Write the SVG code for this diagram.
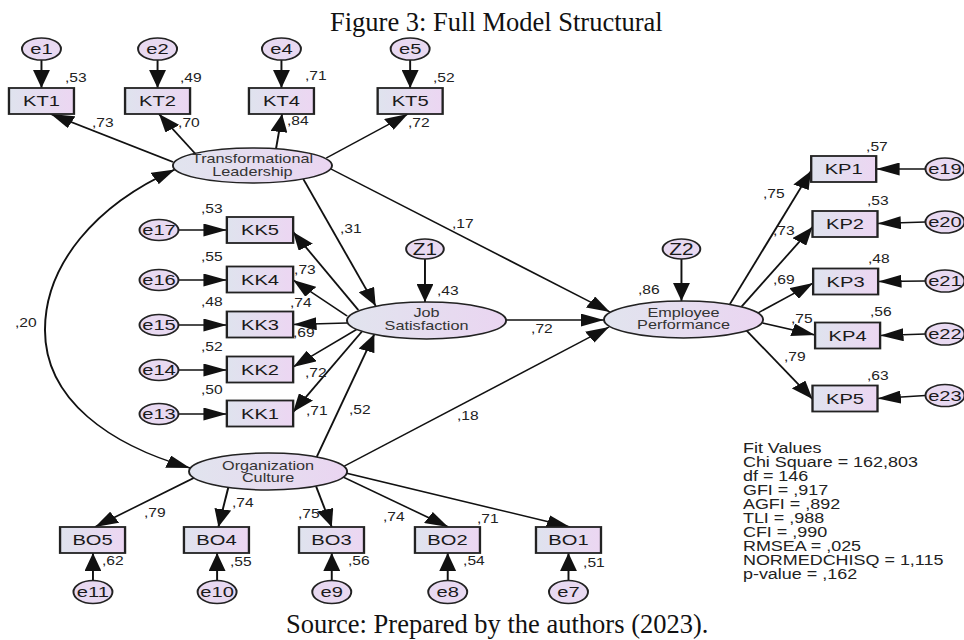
<svg xmlns="http://www.w3.org/2000/svg" width="964" height="640" viewBox="0 0 964 640">
<style>
.t{font-family:"Liberation Sans",Arial,sans-serif;fill:#1a1a1a}
.n{font-size:15.5px;text-anchor:middle}
.z{font-size:16px;text-anchor:middle}
.lt{font-size:12.5px;text-anchor:middle;fill:#333}
.v{font-size:12px;fill:#222}
.fit{font-size:13.8px;fill:#222}
.box{fill:url(#gb);stroke:#222;stroke-width:1.8}
.lat{fill:url(#gl);stroke:#222;stroke-width:1.5}
.err{fill:#e8d9f1;stroke:#222;stroke-width:1.5}
.c{fill:none;stroke:#111;stroke-width:1.5;marker-end:url(#ah)}
.cap{font-family:"Liberation Serif","Times New Roman",serif;font-size:26.5px;fill:#111}
</style>
<defs>
<linearGradient id="gb" x1="0" y1="0" x2="1" y2="0"><stop offset="0" stop-color="#dfe3ee"/><stop offset="1" stop-color="#ecd6f2"/></linearGradient>
<linearGradient id="gl" x1="0" y1="0" x2="1" y2="0"><stop offset="0" stop-color="#e1e4ee"/><stop offset="1" stop-color="#ead5f1"/></linearGradient>
<marker id="ah" viewBox="0 0 18 13" refX="18" refY="6.5" markerWidth="18" markerHeight="13" markerUnits="userSpaceOnUse" orient="auto-start-reverse"><path d="M0,0 L18,6.5 L0,13 z" fill="#111"/></marker>
</defs>
<rect width="964" height="640" fill="#fff"/>
<text class="cap" x="330" y="31">Figure 3: Full Model Structural</text>
<text class="cap" x="286" y="633">Source: Prepared by the authors (2023).</text>
<g transform="scale(1.3 1)">
<g id="connectors">
<path class="c" d="M31.9,60 V88"/>
<path class="c" d="M121.2,60 V88"/>
<path class="c" d="M216.5,60 V88"/>
<path class="c" d="M315.5,60 V88"/>
<path class="c" d="M133.1,162 L39,114"/>
<path class="c" d="M150,153.4 L122.3,114"/>
<path class="c" d="M212.3,148.8 L217,114"/>
<path class="c" d="M251,158 L313.8,114"/>
<path class="c" d="M233.3,179 L289,306"/>
<path class="c" d="M254.6,169 L469.2,312"/>
<path class="c" style="marker-start:url(#ah)" d="M134.5,169.5 C73.1,205 34.6,265 34.6,330 C34.6,400 84.6,445 146.2,468"/>
<path class="c" d="M137.3,230 H174.5"/>
<path class="c" d="M137.3,280 H174.5"/>
<path class="c" d="M137.3,325 H174.5"/>
<path class="c" d="M137.3,370 H174.5"/>
<path class="c" d="M137.3,414 H174.5"/>
<path class="c" d="M275.6,310 L225.5,232"/>
<path class="c" d="M267,316 L225.5,280"/>
<path class="c" d="M267,323 L225.5,324.5"/>
<path class="c" d="M274.4,329.4 L225.5,367"/>
<path class="c" d="M278.5,331.3 L225.5,412"/>
<path class="c" d="M326.9,259 V302"/>
<path class="c" d="M389.3,320 L464.6,320"/>
<path class="c" d="M524.2,259 V301"/>
<path class="c" d="M243.6,457 L288,334"/>
<path class="c" d="M265,466 L468.5,327"/>
<path class="c" d="M561.5,304 L623.8,171"/>
<path class="c" d="M570.5,306.5 L625,227"/>
<path class="c" d="M583,313 L625.5,283"/>
<path class="c" d="M586.5,323 L627,335"/>
<path class="c" d="M574.4,330.7 L625,399"/>
<path class="c" d="M711.9,169 L674,169"/>
<path class="c" d="M711.9,222 L675,223.5"/>
<path class="c" d="M711.9,281 L675.5,281.5"/>
<path class="c" d="M711.9,334 L677,335.5"/>
<path class="c" d="M711.9,395.5 L675,398.5"/>
<path class="c" d="M149,478 L73.1,527"/>
<path class="c" d="M175.6,487.5 L168,527"/>
<path class="c" d="M243.1,486.2 L255.2,527"/>
<path class="c" d="M264.1,477.1 L344.8,527"/>
<path class="c" d="M266.7,473.3 L438.5,527"/>
<path class="c" d="M71.5,580.5 V553"/>
<path class="c" d="M167,580.5 V553"/>
<path class="c" d="M255.2,580.5 V553"/>
<path class="c" d="M344.4,580.5 V553"/>
<path class="c" d="M437.3,580.5 V553"/>
</g>
<g id="labels" class="t v">
<text x="50" y="82">,53</text><text x="138.5" y="82">,49</text><text x="234.6" y="80">,71</text><text x="333" y="82">,52</text>
<text x="70.8" y="127">,73</text><text x="137" y="127">,70</text><text x="220.8" y="125">,84</text><text x="313.8" y="127">,72</text>
<text x="154.6" y="213">,53</text><text x="154.6" y="261">,55</text><text x="154.6" y="306">,48</text><text x="154.6" y="351">,52</text><text x="154.6" y="394">,50</text>
<text x="226.2" y="274">,73</text><text x="223" y="307">,74</text><text x="225.4" y="337">,69</text><text x="234.6" y="377">,72</text><text x="235.4" y="415">,71</text>
<text x="261.5" y="233">,31</text><text x="347.7" y="228">,17</text><text x="11.5" y="327">,20</text><text x="336.2" y="295">,43</text>
<text x="268.5" y="414">,52</text><text x="351.5" y="420">,18</text><text x="408.5" y="333">,72</text><text x="490.8" y="294">,86</text>
<text x="586.9" y="198">,75</text><text x="594.6" y="235">,73</text><text x="594.6" y="284">,69</text><text x="608.5" y="323">,75</text><text x="603" y="361">,79</text>
<text x="666.2" y="151">,57</text><text x="666.9" y="205">,53</text><text x="667.7" y="263">,48</text><text x="669.2" y="316">,56</text><text x="666.9" y="380">,63</text>
<text x="110.8" y="517">,79</text><text x="178.5" y="507">,74</text><text x="229.2" y="518">,75</text><text x="294.6" y="521">,74</text><text x="366.9" y="523">,71</text>
<text x="78.5" y="565">,62</text><text x="176.9" y="566">,55</text><text x="267.7" y="565">,56</text><text x="356.2" y="565">,54</text><text x="448.5" y="567">,51</text>
</g>
<g id="e1"><ellipse class="err" cx="31.9" cy="49" rx="15" ry="11"/><text class="t n" x="31.9" y="54.5">e1</text></g>
<g id="e2"><ellipse class="err" cx="121.2" cy="49" rx="15" ry="11"/><text class="t n" x="121.2" y="54.5">e2</text></g>
<g id="e4"><ellipse class="err" cx="216.5" cy="49" rx="15" ry="11"/><text class="t n" x="216.5" y="54.5">e4</text></g>
<g id="e5"><ellipse class="err" cx="315.5" cy="49" rx="15" ry="11"/><text class="t n" x="315.5" y="54.5">e5</text></g>
<g id="KT1"><rect class="box" x="6.9" y="88" width="50" height="26"/><text class="t n" x="31.9" y="106.5">KT1</text></g>
<g id="KT2"><rect class="box" x="96.2" y="88" width="50" height="26"/><text class="t n" x="121.2" y="106.5">KT2</text></g>
<g id="KT4"><rect class="box" x="191.5" y="88" width="50" height="26"/><text class="t n" x="216.5" y="106.5">KT4</text></g>
<g id="KT5"><rect class="box" x="290.5" y="88" width="50" height="26"/><text class="t n" x="315.5" y="106.5">KT5</text></g>
<g id="TL"><ellipse class="lat" cx="194.2" cy="165.5" rx="61.2" ry="17.5"/><text class="t lt" x="194.2" y="163">Transformational</text><text class="t lt" x="194.2" y="176">Leadership</text></g>
<g id="e17"><ellipse class="err" cx="122.3" cy="230" rx="15" ry="10.5"/><text class="t n" x="122.3" y="235.5">e17</text></g>
<g id="e16"><ellipse class="err" cx="122.3" cy="280" rx="15" ry="10.5"/><text class="t n" x="122.3" y="285.5">e16</text></g>
<g id="e15"><ellipse class="err" cx="122.3" cy="325" rx="15" ry="10.5"/><text class="t n" x="122.3" y="330.5">e15</text></g>
<g id="e14"><ellipse class="err" cx="122.3" cy="370" rx="15" ry="10.5"/><text class="t n" x="122.3" y="375.5">e14</text></g>
<g id="e13"><ellipse class="err" cx="122.3" cy="414" rx="15" ry="10.5"/><text class="t n" x="122.3" y="419.5">e13</text></g>
<g id="KK5"><rect class="box" x="174.5" y="217" width="51" height="26"/><text class="t n" x="200" y="235.5">KK5</text></g>
<g id="KK4"><rect class="box" x="174.5" y="266.5" width="51" height="26"/><text class="t n" x="200" y="285">KK4</text></g>
<g id="KK3"><rect class="box" x="174.5" y="311.5" width="51" height="26"/><text class="t n" x="200" y="330">KK3</text></g>
<g id="KK2"><rect class="box" x="174.5" y="356.5" width="51" height="26"/><text class="t n" x="200" y="375">KK2</text></g>
<g id="KK1"><rect class="box" x="174.5" y="400.5" width="51" height="26"/><text class="t n" x="200" y="419">KK1</text></g>
<g id="Z1"><ellipse class="err" cx="326.9" cy="249" rx="14.5" ry="10"/><text class="t z" x="326.9" y="254.8">Z1</text></g>
<g id="JS"><ellipse class="lat" cx="328.1" cy="320.5" rx="61.2" ry="18.5"/><text class="t lt" x="328.1" y="317.3">Job</text><text class="t lt" x="328.1" y="330.3">Satisfaction</text></g>
<g id="Z2"><ellipse class="err" cx="524.2" cy="249" rx="14.5" ry="10"/><text class="t z" x="524.2" y="254.8">Z2</text></g>
<g id="EP"><ellipse class="lat" cx="525.8" cy="319.5" rx="61.2" ry="18.5"/><text class="t lt" x="525.8" y="317">Employee</text><text class="t lt" x="525.8" y="329.5">Performance</text></g>
<g id="OC"><ellipse class="lat" cx="206.2" cy="471.5" rx="60.8" ry="18.5"/><text class="t lt" x="206.2" y="470">Organization</text><text class="t lt" x="206.2" y="482.5">Culture</text></g>
<g id="KP1"><rect class="box" x="624" y="156" width="50" height="26"/><text class="t n" x="649" y="174.5">KP1</text></g>
<g id="KP2"><rect class="box" x="625" y="211" width="50" height="26"/><text class="t n" x="650" y="229.5">KP2</text></g>
<g id="KP3"><rect class="box" x="625.5" y="268.5" width="50" height="26"/><text class="t n" x="650.5" y="287">KP3</text></g>
<g id="KP4"><rect class="box" x="627" y="322.5" width="50" height="26"/><text class="t n" x="652" y="341">KP4</text></g>
<g id="KP5"><rect class="box" x="625" y="385.5" width="50" height="26"/><text class="t n" x="650" y="404">KP5</text></g>
<g id="e19"><ellipse class="err" cx="726.9" cy="169" rx="15" ry="11"/><text class="t n" x="726.9" y="174.5">e19</text></g>
<g id="e20"><ellipse class="err" cx="726.9" cy="222" rx="15" ry="11"/><text class="t n" x="726.9" y="227.5">e20</text></g>
<g id="e21"><ellipse class="err" cx="726.9" cy="281" rx="15" ry="11"/><text class="t n" x="726.9" y="286.5">e21</text></g>
<g id="e22"><ellipse class="err" cx="726.9" cy="334" rx="15" ry="11"/><text class="t n" x="726.9" y="339.5">e22</text></g>
<g id="e23"><ellipse class="err" cx="726.9" cy="395.5" rx="15" ry="11"/><text class="t n" x="726.9" y="401">e23</text></g>
<g id="BO5"><rect class="box" x="46.2" y="527" width="50" height="26"/><text class="t n" x="71.2" y="545.5">BO5</text></g>
<g id="BO4"><rect class="box" x="141.5" y="527" width="50" height="26"/><text class="t n" x="166.5" y="545.5">BO4</text></g>
<g id="BO3"><rect class="box" x="230" y="527" width="50" height="26"/><text class="t n" x="255" y="545.5">BO3</text></g>
<g id="BO2"><rect class="box" x="319.2" y="527" width="50" height="26"/><text class="t n" x="344.2" y="545.5">BO2</text></g>
<g id="BO1"><rect class="box" x="412.3" y="527" width="50" height="26"/><text class="t n" x="437.3" y="545.5">BO1</text></g>
<g id="e11"><ellipse class="err" cx="71.5" cy="592" rx="15" ry="11.5"/><text class="t n" x="71.5" y="597.5">e11</text></g>
<g id="e10"><ellipse class="err" cx="167" cy="592" rx="15" ry="11.5"/><text class="t n" x="167" y="597.5">e10</text></g>
<g id="e9"><ellipse class="err" cx="255.2" cy="592" rx="15" ry="11.5"/><text class="t n" x="255.2" y="597.5">e9</text></g>
<g id="e8"><ellipse class="err" cx="344.4" cy="592" rx="15" ry="11.5"/><text class="t n" x="344.4" y="597.5">e8</text></g>
<g id="e7"><ellipse class="err" cx="437.3" cy="592" rx="15" ry="11.5"/><text class="t n" x="437.3" y="597.5">e7</text></g>
<g id="fit" class="t fit">
<text x="571.5" y="453">Fit Values</text>
<text x="571.5" y="467">Chi Square = 162,803</text>
<text x="571.5" y="481">df = 146</text>
<text x="571.5" y="495">GFI = ,917</text>
<text x="571.5" y="509">AGFI = ,892</text>
<text x="571.5" y="523">TLI = ,988</text>
<text x="571.5" y="537">CFI = ,990</text>
<text x="571.5" y="551">RMSEA = ,025</text>
<text x="571.5" y="565">NORMEDCHISQ = 1,115</text>
<text x="571.5" y="579">p-value = ,162</text>
</g>
</g>
</svg>
